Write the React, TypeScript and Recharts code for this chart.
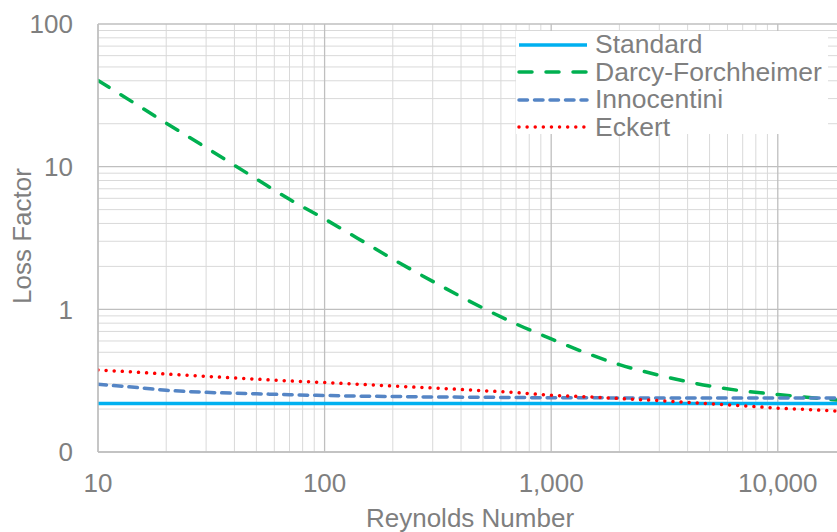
import React from "react"
import { LineChart, Line, XAxis, YAxis, Legend, ReferenceLine, Label } from "recharts"

// Reynolds numbers sampled along each curve
const RE = [10, 15, 20, 30, 50, 70, 100, 150, 200, 300, 500, 700, 1000, 1500, 2000, 3000, 5000, 7000, 10000, 15000, 20000]

const STANDARD = [0.219, 0.219, 0.219, 0.219, 0.219, 0.219, 0.219, 0.219, 0.219, 0.219, 0.219, 0.219, 0.219, 0.219, 0.219, 0.219, 0.219, 0.219, 0.219, 0.219, 0.219]
const DARCY = [40.2, 26.9, 20.2, 13.6, 8.2, 5.9, 4.3, 2.95, 2.25, 1.57, 1.02, 0.79, 0.62, 0.48, 0.41, 0.345, 0.29, 0.268, 0.253, 0.238, 0.229]
const INNOCENTINI = [0.298, 0.283, 0.271, 0.262, 0.256, 0.252, 0.249, 0.246, 0.245, 0.243, 0.242, 0.241, 0.240, 0.240, 0.239, 0.239, 0.239, 0.239, 0.239, 0.239, 0.239]
const ECKERT = [0.376, 0.362, 0.352, 0.339, 0.324, 0.315, 0.307, 0.297, 0.290, 0.281, 0.269, 0.261, 0.250, 0.243, 0.237, 0.229, 0.218, 0.211, 0.203, 0.197, 0.192]

const X_MAJOR = [10, 100, 1000, 10000]
const X_MINOR = [20, 30, 40, 50, 60, 70, 80, 90, 200, 300, 400, 500, 600, 700, 800, 900, 2000, 3000, 4000, 5000, 6000, 7000, 8000, 9000, 20000]
const Y_MAJOR = [0.1, 1, 10, 100]
const Y_MINOR = [0.2, 0.3, 0.4, 0.5, 0.6, 0.7, 0.8, 0.9, 2, 3, 4, 5, 6, 7, 8, 9, 20, 30, 40, 50, 60, 70, 80, 90]

const data = RE.map((re, i) => ({
  re,
  standard: STANDARD[i],
  darcy: DARCY[i],
  innocentini: INNOCENTINI[i],
  eckert: ECKERT[i],
}))

const FONT = "'Liberation Sans', Arial, sans-serif"
const GRAY = "#7f7f7f"

const SERIES = [
  { key: "standard",    name: "Standard",          color: "#00B0F0", dash: undefined,  cap: "butt" as const },
  { key: "darcy",       name: "Darcy-Forchheimer", color: "#00B050", dash: "13 14",    cap: "round" as const },
  { key: "innocentini", name: "Innocentini",       color: "#5585C5", dash: "8.5 7",    cap: "round" as const },
  { key: "eckert",      name: "Eckert",            color: "#FF0000", dash: "0.01 8.1", cap: "round" as const },
]

const fmt = (v: number) => Math.round(v).toLocaleString("en-US")

function LegendBox() {
  return (
    <div style={{ background: "#fff", height: 103, width: 312, fontFamily: FONT, fontSize: 26.5, color: GRAY }}>
      {SERIES.map((s) => (
        <div key={s.key} style={{ display: "flex", alignItems: "center", height: 27.5, lineHeight: "27.5px" }}>
          <svg width={74} height={10} style={{ marginRight: 5, flex: "none" }}>
            <line x1={3} y1={5} x2={71} y2={5} stroke={s.color} strokeWidth={3.5}
              strokeDasharray={s.dash} strokeLinecap={s.cap} />
          </svg>
          <span style={{ whiteSpace: "nowrap" }}>{s.name}</span>
        </div>
      ))}
    </div>
  )
}

export default function App() {
  return (
    <div style={{ position: "absolute", left: 0, top: 0, width: 837, height: 532, overflow: "hidden", background: "#fff" }}>
      <LineChart width={846} height={532} data={data} margin={{ top: 24, right: 0, bottom: 0, left: 0 }}>
        {X_MINOR.map(v => <ReferenceLine key={"xm" + v} x={v} stroke="#d9d9d9" strokeWidth={1} ifOverflow="hidden" />)}
        {Y_MINOR.map(v => <ReferenceLine key={"ym" + v} y={v} stroke="#d9d9d9" strokeWidth={1} />)}
        {X_MAJOR.map(v => <ReferenceLine key={"xM" + v} x={v} stroke="#bfbfbf" strokeWidth={1.3} />)}
        {Y_MAJOR.map(v => <ReferenceLine key={"yM" + v} y={v} stroke="#bfbfbf" strokeWidth={1.3} />)}
        <XAxis
          dataKey="re"
          type="number"
          scale="log"
          domain={[10, 20000]}
          allowDataOverflow
          ticks={X_MAJOR}
          tickFormatter={fmt}
          tick={{ fontSize: 26, fill: GRAY, fontFamily: FONT }}
          tickLine={false}
          tickSize={0}
          tickMargin={22}
          axisLine={{ stroke: "#bfbfbf", strokeWidth: 1.3 }}
          height={80}
        >
          <Label
            content={({ viewBox }: any) => (
              <text x={viewBox.x + viewBox.width / 2 - 2} y={viewBox.y + 75} textAnchor="middle"
                fontSize={26} fill={GRAY} fontFamily={FONT}>Reynolds Number</text>
            )}
          />
        </XAxis>
        <YAxis
          type="number"
          scale="log"
          domain={[0.1, 100]}
          allowDataOverflow
          ticks={Y_MAJOR}
          tickFormatter={fmt}
          tick={{ fontSize: 26, fill: GRAY, fontFamily: FONT }}
          tickLine={false}
          tickSize={0}
          tickMargin={25}
          axisLine={{ stroke: "#bfbfbf", strokeWidth: 1.3 }}
          width={98}
        >
          <Label
            content={({ viewBox }: any) => {
              const cx = 31
              const cy = viewBox.y + viewBox.height / 2 - 2
              return (
                <text x={cx} y={cy} transform={`rotate(-90, ${cx}, ${cy})`} textAnchor="middle"
                  fontSize={26} fill={GRAY} fontFamily={FONT}>Loss Factor</text>
              )
            }}
          />
        </YAxis>
        <Legend
          layout="vertical"
          align="center"
          verticalAlign="middle"
          wrapperStyle={{ top: 31, left: 516, width: 312 }}
          content={() => <LegendBox />}
        />
        {SERIES.map(s => (
          <Line
            key={s.key}
            dataKey={s.key}
            name={s.name}
            type="monotone"
            stroke={s.color}
            strokeWidth={3.5}
            strokeDasharray={s.dash}
            strokeLinecap={s.cap}
            dot={false}
            activeDot={false}
            isAnimationActive={false}
          />
        ))}
      </LineChart>
    </div>
  )
}
